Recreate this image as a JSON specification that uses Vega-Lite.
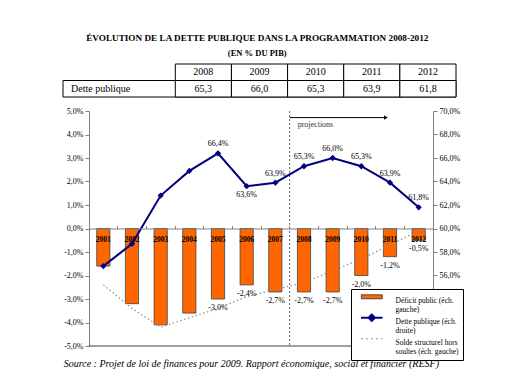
{
  "$schema": "https://vega.github.io/schema/vega-lite/v6.json",
  "padding": {"left": 62, "top": 33, "right": 5, "bottom": 5},
  "title": {
    "text": "ÉVOLUTION DE LA DETTE PUBLIQUE DANS LA PROGRAMMATION 2008-2012",
    "subtitle": "(EN % DU PIB)",
    "anchor": "middle",
    "dx": -15,
    "font": "Liberation Serif, Times New Roman, DejaVu Serif, serif",
    "fontSize": 9.2,
    "fontWeight": "bold",
    "color": "#000",
    "subtitleFont": "Liberation Serif, Times New Roman, DejaVu Serif, serif",
    "subtitleFontSize": 8.5,
    "subtitleFontWeight": "bold",
    "subtitleColor": "#000",
    "subtitlePadding": 6,
    "offset": 6
  },
  "spacing": 9,
  "vconcat": [
    {
      "width": 393,
      "height": 33,
      "data": {"values": [
        {"year": "2008", "dette": 65.3},
        {"year": "2009", "dette": 66.0},
        {"year": "2010", "dette": 65.3},
        {"year": "2011", "dette": 63.9},
        {"year": "2012", "dette": 61.8}
      ]},
      "layer": [
        {
          "data": {"values": [{}]},
          "mark": {"type": "rect", "fill": "#fff", "stroke": "#000", "strokeWidth": 1},
          "encoding": {
            "x": {"datum": "a", "type": "nominal", "bandPosition": 0, "scale": {"domain": ["a", "b", "2008", "2009", "2010", "2011", "2012"], "range": [-26, 367], "paddingInner": 0, "paddingOuter": 0}, "axis": null},
            "x2": {"datum": "2012", "bandPosition": 1},
            "y": {"datum": "d", "type": "nominal", "scale": {"domain": ["h", "d"], "paddingInner": 0, "paddingOuter": 0}, "axis": null}
          }
        },
        {
          "mark": {"type": "rect", "fill": "#fff", "stroke": "#000", "strokeWidth": 1},
          "encoding": {
            "x": {"field": "year", "type": "nominal", "axis": null},
            "y": {"datum": "h", "type": "nominal", "axis": null}
          }
        },
        {
          "mark": {"type": "rect", "fill": "#fff", "stroke": "#000", "strokeWidth": 1},
          "encoding": {
            "x": {"field": "year", "type": "nominal", "axis": null},
            "y": {"datum": "d", "type": "nominal", "axis": null}
          }
        },
        {
          "mark": {"type": "text", "fontSize": 10, "baseline": "middle", "color": "#000"},
          "encoding": {
            "x": {"field": "year", "type": "nominal", "axis": null},
            "y": {"datum": "h", "type": "nominal", "axis": null},
            "text": {"field": "year"}
          }
        },
        {
          "mark": {"type": "text", "fontSize": 10, "baseline": "middle", "color": "#000"},
          "encoding": {
            "x": {"field": "year", "type": "nominal", "axis": null},
            "y": {"datum": "d", "type": "nominal", "axis": null},
            "text": {"field": "dette", "format": ".1f"}
          }
        },
        {
          "data": {"values": [{}]},
          "mark": {"type": "text", "fontSize": 10, "baseline": "middle", "align": "left", "dx": 8, "color": "#000"},
          "encoding": {
            "x": {"datum": "a", "type": "nominal", "bandPosition": 0, "axis": null},
            "y": {"datum": "d", "type": "nominal", "axis": null},
            "text": {"value": "Dette publique"}
          }
        }
      ]
    },
    {
      "width": 344,
      "height": 235,
      "title": {
        "text": "Source : Projet de loi de finances pour 2009. Rapport économique, social et financier (RESF)",
        "orient": "bottom",
        "anchor": "start",
        "fontSize": 10,
        "fontStyle": "italic",
        "fontWeight": "normal",
        "color": "#000",
        "offset": 9
      },
      "data": {"values": [
        {"year": 2001, "deficit": -0.016, "dette": 0.568, "solde": -0.024},
        {"year": 2002, "deficit": -0.032, "dette": 0.587, "solde": -0.034},
        {"year": 2003, "deficit": -0.041, "dette": 0.628, "solde": -0.042},
        {"year": 2004, "deficit": -0.036, "dette": 0.649, "solde": -0.038},
        {"year": 2005, "deficit": -0.030, "dette": 0.664, "solde": -0.034},
        {"year": 2006, "deficit": -0.024, "dette": 0.636, "solde": -0.029},
        {"year": 2007, "deficit": -0.027, "dette": 0.639, "solde": -0.026},
        {"year": 2008, "deficit": -0.027, "dette": 0.653, "solde": -0.023},
        {"year": 2009, "deficit": -0.027, "dette": 0.660, "solde": -0.018},
        {"year": 2010, "deficit": -0.020, "dette": 0.653, "solde": -0.013},
        {"year": 2011, "deficit": -0.012, "dette": 0.639, "solde": -0.007},
        {"year": 2012, "deficit": -0.005, "dette": 0.618, "solde": -0.001}
      ]},
      "layer": [
        {
          "layer": [
            {
              "mark": {"type": "bar", "width": {"band": 0.46}},
              "encoding": {
                "x": {"field": "year", "type": "ordinal", "scale": {"paddingInner": 0, "paddingOuter": 0},
                  "axis": {"orient": "top", "offset": -117.5, "labels": false, "title": null, "ticks": true, "tickSize": 3, "bandPosition": 0, "domainColor": "#808080", "tickColor": "#808080", "grid": false, "zindex": 1}},
                "y": {"field": "deficit", "type": "quantitative", "scale": {"domain": [-0.05, 0.05], "nice": false},
                  "axis": {"orient": "left", "values": [-0.05, -0.04, -0.03, -0.02, -0.01, 0, 0.01, 0.02, 0.03, 0.04, 0.05], "format": ".1%", "title": null, "grid": false, "tickSize": 4, "labelPadding": 2, "domainColor": "#808080", "tickColor": "#808080", "labelFontSize": 8, "labelColor": "#000"}},
                "color": {
                  "datum": "Déficit public (éch. gauche)", "type": "nominal",
                  "scale": {
                    "domain": ["Déficit public (éch. gauche)", "Dette publique (éch. droite)", "Solde structurel hors soultes (éch. gauche)"],
                    "range": ["#FF6600", "#000080", "#8c8c8c"]
                  },
                  "legend": {
                    "title": null, "orient": "none", "legendX": 262, "legendY": 225,
                    "symbolType": {"expr": "datum.value == 'Déficit public (éch. gauche)' ? 'M-2.6,-0.5H2.6V0.5H-2.6Z' : datum.value == 'Dette publique (éch. droite)' ? 'M-2.7,0H2.7M0,-0.8L0.8,0L0,0.8L-0.8,0Z' : 'M-2.7,0H2.7'"},
                    "symbolStrokeColor": {"expr": "datum.value == 'Déficit public (éch. gauche)' ? '#404040' : datum.value == 'Dette publique (éch. droite)' ? '#000080' : '#8c8c8c'"},
                    "symbolStrokeWidth": {"expr": "datum.value == 'Dette publique (éch. droite)' ? 2 : 1"},
                    "symbolDash": {"expr": "datum.value == 'Solde structurel hors soultes (éch. gauche)' ? [2, 3] : [1, 0]"},
                    "labelExpr": "datum.label == 'Déficit public (éch. gauche)' ? ['Déficit public (éch.', 'gauche)'] : datum.label == 'Dette publique (éch. droite)' ? ['Dette publique (éch.', 'droite)'] : ['Solde structurel hors', 'soultes (éch. gauche)']",
                    "encode": {
                      "labels": {"dy": {"value": -4.2}, "lineHeight": {"value": 9.2}}
                    }
                  }
                }
              }
            },
            {
              "mark": {"type": "bar", "width": {"band": 0.46}, "filled": false, "stroke": "#404040", "strokeWidth": 0.8},
              "encoding": {
                "x": {"field": "year", "type": "ordinal",
                  "axis": {"orient": "top", "offset": -117.5, "labels": false, "title": null, "ticks": true, "tickSize": 3, "bandPosition": 0, "domainColor": "#808080", "tickColor": "#808080", "grid": false, "zindex": 1}},
                "y": {"field": "deficit", "type": "quantitative",
                  "axis": {"orient": "left", "values": [-0.05, -0.04, -0.03, -0.02, -0.01, 0, 0.01, 0.02, 0.03, 0.04, 0.05], "format": ".1%", "title": null, "grid": false, "tickSize": 4, "labelPadding": 2, "domainColor": "#808080", "tickColor": "#808080", "labelFontSize": 8, "labelColor": "#000"}}
              }
            },
            {
              "mark": {"type": "line", "strokeDash": [1.5, 2.5], "strokeWidth": 1.2, "color": "#8c8c8c"},
              "encoding": {
                "x": {"field": "year", "type": "ordinal",
                  "axis": {"orient": "top", "offset": -117.5, "labels": false, "title": null, "ticks": true, "tickSize": 3, "bandPosition": 0, "domainColor": "#808080", "tickColor": "#808080", "grid": false, "zindex": 1}},
                "y": {"field": "solde", "type": "quantitative",
                  "axis": {"orient": "left", "values": [-0.05, -0.04, -0.03, -0.02, -0.01, 0, 0.01, 0.02, 0.03, 0.04, 0.05], "format": ".1%", "title": null, "grid": false, "tickSize": 4, "labelPadding": 2, "domainColor": "#808080", "tickColor": "#808080", "labelFontSize": 8, "labelColor": "#000"}}
              }
            },
            {
              "mark": {"type": "text", "fontSize": 7.5, "fontWeight": "bold", "dy": 11, "baseline": "middle", "color": "#000"},
              "encoding": {
                "x": {"field": "year", "type": "ordinal",
                  "axis": {"orient": "top", "offset": -117.5, "labels": false, "title": null, "ticks": true, "tickSize": 3, "bandPosition": 0, "domainColor": "#808080", "tickColor": "#808080", "grid": false, "zindex": 1}},
                "y": {"datum": 0, "type": "quantitative",
                  "axis": {"orient": "left", "values": [-0.05, -0.04, -0.03, -0.02, -0.01, 0, 0.01, 0.02, 0.03, 0.04, 0.05], "format": ".1%", "title": null, "grid": false, "tickSize": 4, "labelPadding": 2, "domainColor": "#808080", "tickColor": "#808080", "labelFontSize": 8, "labelColor": "#000"}},
                "text": {"field": "year"}
              }
            },
            {
              "transform": [{"filter": "datum.year >= 2005"}],
              "mark": {"type": "text", "fontSize": 8, "dy": 9, "baseline": "middle", "color": "#000"},
              "encoding": {
                "x": {"field": "year", "type": "ordinal",
                  "axis": {"orient": "top", "offset": -117.5, "labels": false, "title": null, "ticks": true, "tickSize": 3, "bandPosition": 0, "domainColor": "#808080", "tickColor": "#808080", "grid": false, "zindex": 1}},
                "y": {"field": "deficit", "type": "quantitative",
                  "axis": {"orient": "left", "values": [-0.05, -0.04, -0.03, -0.02, -0.01, 0, 0.01, 0.02, 0.03, 0.04, 0.05], "format": ".1%", "title": null, "grid": false, "tickSize": 4, "labelPadding": 2, "domainColor": "#808080", "tickColor": "#808080", "labelFontSize": 8, "labelColor": "#000"}},
                "text": {"field": "deficit", "format": ".1%"}
              }
            },
            {
              "data": {"values": [{}]},
              "mark": {"type": "rule", "color": "#404040", "strokeWidth": 1},
              "encoding": {
                "y": {"datum": -0.05, "type": "quantitative",
                  "axis": {"orient": "left", "values": [-0.05, -0.04, -0.03, -0.02, -0.01, 0, 0.01, 0.02, 0.03, 0.04, 0.05], "format": ".1%", "title": null, "grid": false, "tickSize": 4, "labelPadding": 2, "domainColor": "#808080", "tickColor": "#808080", "labelFontSize": 8, "labelColor": "#000"}}
              }
            },
            {
              "data": {"values": [{}]},
              "mark": {"type": "rule", "color": "#606060", "strokeDash": [2, 2], "strokeWidth": 1},
              "encoding": {
                "x": {"datum": 2008, "type": "ordinal", "bandPosition": 0,
                  "axis": {"orient": "top", "offset": -117.5, "labels": false, "title": null, "ticks": true, "tickSize": 3, "bandPosition": 0, "domainColor": "#808080", "tickColor": "#808080", "grid": false, "zindex": 1}}
              }
            },
            {
              "data": {"values": [{}]},
              "mark": {"type": "rule", "color": "#000", "strokeWidth": 1},
              "encoding": {
                "x": {"datum": 2008, "type": "ordinal", "bandPosition": 0,
                  "axis": {"orient": "top", "offset": -117.5, "labels": false, "title": null, "ticks": true, "tickSize": 3, "bandPosition": 0, "domainColor": "#808080", "tickColor": "#808080", "grid": false, "zindex": 1}},
                "x2": {"datum": 2011, "bandPosition": 0.36},
                "y": {"datum": 0.0472, "type": "quantitative",
                  "axis": {"orient": "left", "values": [-0.05, -0.04, -0.03, -0.02, -0.01, 0, 0.01, 0.02, 0.03, 0.04, 0.05], "format": ".1%", "title": null, "grid": false, "tickSize": 4, "labelPadding": 2, "domainColor": "#808080", "tickColor": "#808080", "labelFontSize": 8, "labelColor": "#000"}}
              }
            },
            {
              "data": {"values": [{}]},
              "mark": {"type": "point", "shape": "triangle-right", "filled": true, "size": 18, "color": "#000", "opacity": 1},
              "encoding": {
                "x": {"datum": 2011, "type": "ordinal", "bandPosition": 0.36,
                  "axis": {"orient": "top", "offset": -117.5, "labels": false, "title": null, "ticks": true, "tickSize": 3, "bandPosition": 0, "domainColor": "#808080", "tickColor": "#808080", "grid": false, "zindex": 1}},
                "y": {"datum": 0.0472, "type": "quantitative",
                  "axis": {"orient": "left", "values": [-0.05, -0.04, -0.03, -0.02, -0.01, 0, 0.01, 0.02, 0.03, 0.04, 0.05], "format": ".1%", "title": null, "grid": false, "tickSize": 4, "labelPadding": 2, "domainColor": "#808080", "tickColor": "#808080", "labelFontSize": 8, "labelColor": "#000"}}
              }
            },
            {
              "data": {"values": [{}]},
              "mark": {"type": "text", "fontSize": 8, "align": "left", "baseline": "middle", "dx": 8, "dy": 7, "color": "#333"},
              "encoding": {
                "x": {"datum": 2008, "type": "ordinal", "bandPosition": 0,
                  "axis": {"orient": "top", "offset": -117.5, "labels": false, "title": null, "ticks": true, "tickSize": 3, "bandPosition": 0, "domainColor": "#808080", "tickColor": "#808080", "grid": false, "zindex": 1}},
                "y": {"datum": 0.0472, "type": "quantitative",
                  "axis": {"orient": "left", "values": [-0.05, -0.04, -0.03, -0.02, -0.01, 0, 0.01, 0.02, 0.03, 0.04, 0.05], "format": ".1%", "title": null, "grid": false, "tickSize": 4, "labelPadding": 2, "domainColor": "#808080", "tickColor": "#808080", "labelFontSize": 8, "labelColor": "#000"}},
                "text": {"value": "projections"}
              }
            }
          ]
        },
        {
          "layer": [
            {
              "mark": {"type": "line", "strokeWidth": 2, "color": "#000080", "point": {"shape": "diamond", "filled": true, "size": 40, "color": "#000080"}},
              "encoding": {
                "x": {"field": "year", "type": "ordinal",
                  "axis": {"orient": "top", "offset": -117.5, "labels": false, "title": null, "ticks": true, "tickSize": 3, "bandPosition": 0, "domainColor": "#808080", "tickColor": "#808080", "grid": false, "zindex": 1}},
                "y": {"field": "dette", "type": "quantitative", "scale": {"domain": [0.5, 0.7], "nice": false, "zero": false},
                  "axis": {"orient": "right", "values": [0.56, 0.58, 0.6, 0.62, 0.64, 0.66, 0.68, 0.7], "format": ".1%", "title": null, "grid": false, "tickSize": 4, "labelPadding": 2, "domainColor": "#808080", "tickColor": "#808080", "labelFontSize": 8, "labelColor": "#000"}}
              }
            },
            {
              "transform": [{"filter": "datum.year >= 2005 && datum.year != 2006"}],
              "mark": {"type": "text", "fontSize": 8, "dy": -9, "baseline": "middle", "color": "#000"},
              "encoding": {
                "x": {"field": "year", "type": "ordinal",
                  "axis": {"orient": "top", "offset": -117.5, "labels": false, "title": null, "ticks": true, "tickSize": 3, "bandPosition": 0, "domainColor": "#808080", "tickColor": "#808080", "grid": false, "zindex": 1}},
                "y": {"field": "dette", "type": "quantitative",
                  "axis": {"orient": "right", "values": [0.56, 0.58, 0.6, 0.62, 0.64, 0.66, 0.68, 0.7], "format": ".1%", "title": null, "grid": false, "tickSize": 4, "labelPadding": 2, "domainColor": "#808080", "tickColor": "#808080", "labelFontSize": 8, "labelColor": "#000"}},
                "text": {"field": "dette", "format": ".1%"}
              }
            },
            {
              "transform": [{"filter": "datum.year == 2006"}],
              "mark": {"type": "text", "fontSize": 8, "dy": 9, "baseline": "middle", "color": "#000"},
              "encoding": {
                "x": {"field": "year", "type": "ordinal",
                  "axis": {"orient": "top", "offset": -117.5, "labels": false, "title": null, "ticks": true, "tickSize": 3, "bandPosition": 0, "domainColor": "#808080", "tickColor": "#808080", "grid": false, "zindex": 1}},
                "y": {"field": "dette", "type": "quantitative",
                  "axis": {"orient": "right", "values": [0.56, 0.58, 0.6, 0.62, 0.64, 0.66, 0.68, 0.7], "format": ".1%", "title": null, "grid": false, "tickSize": 4, "labelPadding": 2, "domainColor": "#808080", "tickColor": "#808080", "labelFontSize": 8, "labelColor": "#000"}},
                "text": {"field": "dette", "format": ".1%"}
              }
            }
          ]
        }
      ],
      "resolve": {"scale": {"y": "independent"}}
    }
  ],
  "config": {
    "view": {"stroke": null},
    "font": "Liberation Serif, Times New Roman, DejaVu Serif, serif",
    "background": "#ffffff",
    "legend": {
      "strokeColor": "#000",
      "fillColor": "#fff",
      "padding": 4,
      "labelFontSize": 7.5,
      "labelColor": "#000",
      "labelBaseline": "top",
      "labelOffset": 20,
      "symbolOffset": 13,
      "rowPadding": -6,
      "symbolSize": 64
    },
    "locale": {
      "number": {"decimal": ",", "thousands": "\u00a0", "grouping": [3], "currency": ["", " €"], "minus": "-", "percent": "%"}
    }
  }
}
